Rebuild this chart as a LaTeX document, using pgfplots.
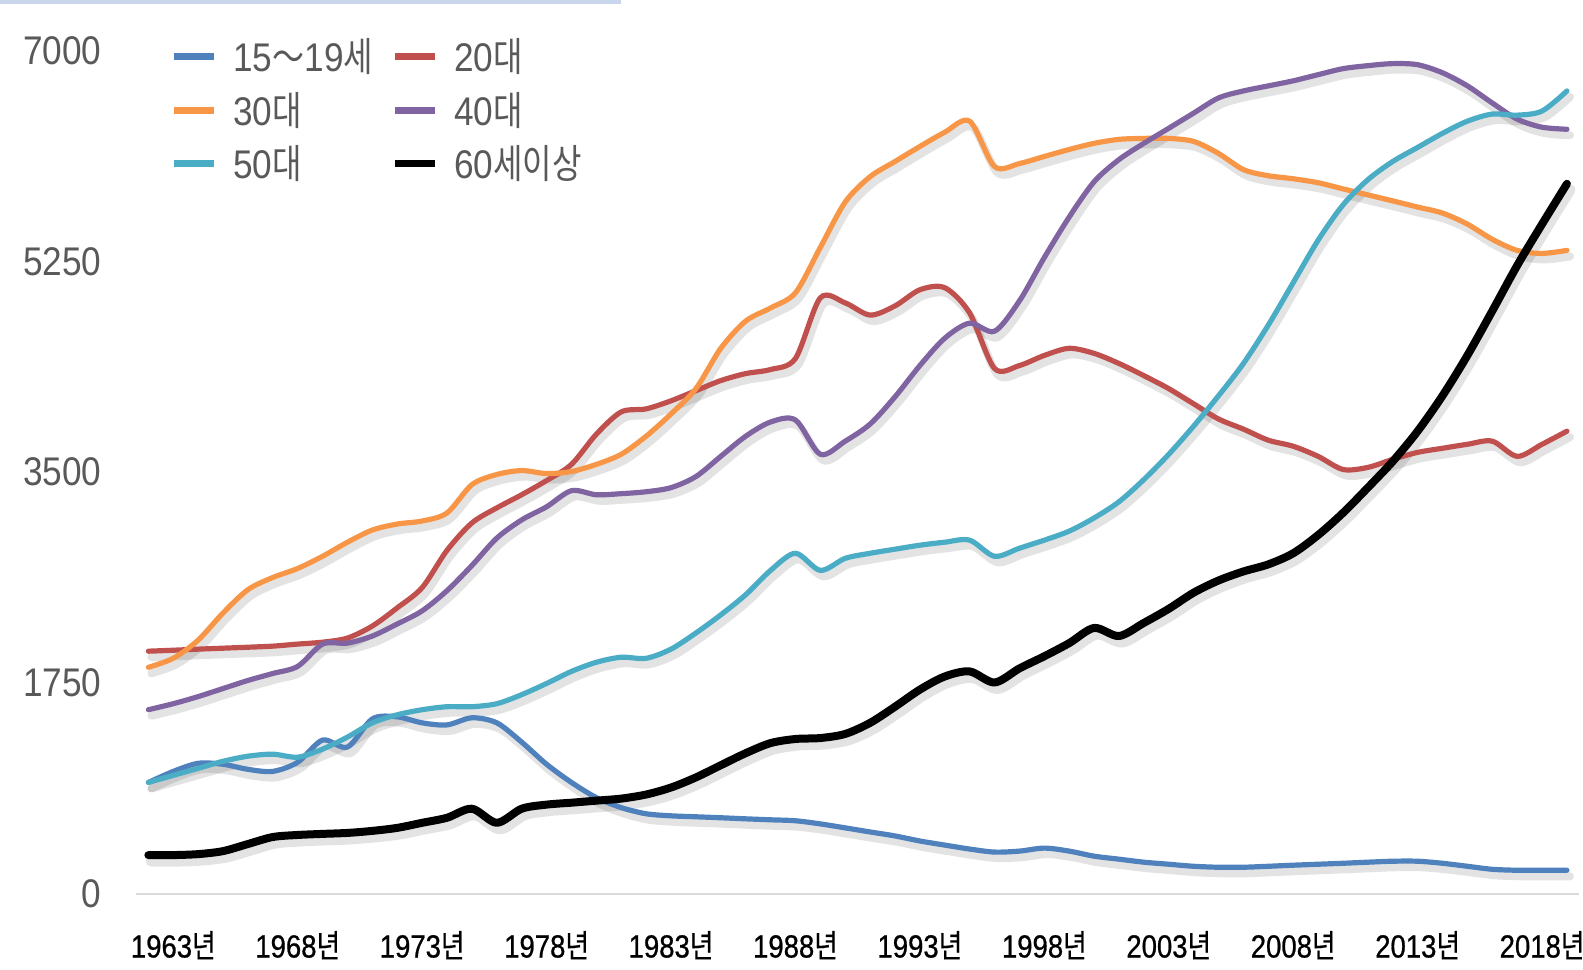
\documentclass[border=0pt]{standalone}
\usepackage{pgfplots}
\pgfplotsset{compat=1.18}
\usepackage{pgfplotstable}
\usepackage{fontspec}
\setmainfont{Liberation Sans}[FakeStretch=0.88]
\newfontfamily\kr{Noto Sans CJK KR}[FakeStretch=0.8]
\newfontfamily\xl{Liberation Sans}[FakeStretch=0.86, FakeBold=0.7]
\newfontfamily\krx{Noto Sans CJK KR}[FakeStretch=0.8, FakeBold=0.5]
\newcommand{\ny}{{\krx 년}}
\definecolor{cteen}{HTML}{4F81BD}
\definecolor{ctwenty}{HTML}{C0504D}
\definecolor{cthirty}{HTML}{F79646}
\definecolor{cforty}{HTML}{8064A2}
\definecolor{cfifty}{HTML}{4BACC6}
\definecolor{txtgray}{HTML}{595959}
\definecolor{axgray}{HTML}{D9D9D9}
\definecolor{barblue}{HTML}{C9D5EA}
\newcommand{\lst}{\rule[-2pt]{0pt}{17pt}}
\pgfplotstableread{
year a b c d e f
1962 922 2012 1878 1526 922 319
1963 1014 2020 1953 1576 981 319
1964 1081 2029 2104 1635 1039 327
1965 1073 2037 2330 1702 1098 352
1966 1031 2045 2523 1769 1140 411
1967 1014 2054 2624 1827 1157 469
1968 1090 2071 2699 1886 1132 486
1969 1274 2087 2800 2071 1199 495
1970 1216 2121 2917 2079 1299 503
1971 1450 2221 3018 2138 1417 520
1972 1467 2372 3068 2238 1484 545
1973 1417 2540 3093 2347 1526 587
1974 1400 2850 3160 2515 1551 629
1975 1459 3077 3395 2724 1551 704
1976 1417 3202 3479 2951 1576 587
1977 1257 3311 3512 3102 1651 704
1978 1073 3429 3487 3211 1744 738
1979 922 3563 3504 3345 1844 754
1980 796 3814 3563 3311 1920 771
1981 713 3999 3647 3320 1962 788
1982 662 4024 3797 3336 1953 822
1983 645 4091 3982 3370 2029 880
1984 637 4175 4192 3462 2163 964
1985 629 4259 4527 3630 2314 1065
1986 620 4317 4753 3797 2481 1165
1987 612 4351 4862 3915 2683 1249
1988 604 4443 4988 3932 2825 1283
1989 578 4946 5365 3647 2683 1291
1990 545 4904 5742 3756 2783 1325
1991 511 4803 5952 3898 2825 1417
1992 478 4879 6078 4124 2859 1551
1993 436 5013 6203 4384 2892 1693
1994 402 5030 6321 4611 2917 1802
1995 369 4820 6413 4736 2934 1844
1996 344 4359 6036 4669 2800 1752
1997 352 4384 6061 4921 2867 1869
1998 377 4468 6120 5281 2934 1970
1999 352 4527 6178 5617 3009 2079
2000 310 4485 6229 5910 3118 2205
2001 285 4401 6262 6094 3253 2138
2002 260 4300 6270 6229 3437 2247
2003 243 4192 6270 6354 3647 2364
2004 226 4066 6245 6480 3881 2498
2005 218 3940 6145 6606 4133 2599
2006 218 3856 6011 6664 4401 2674
2007 226 3764 5960 6706 4720 2733
2008 235 3714 5935 6748 5072 2825
2009 243 3630 5902 6799 5424 2976
2010 251 3521 5851 6849 5717 3160
2011 260 3538 5801 6874 5927 3370
2012 268 3605 5751 6891 6078 3588
2013 268 3663 5700 6882 6195 3839
2014 251 3697 5650 6815 6312 4133
2015 226 3730 5558 6706 6413 4468
2016 201 3756 5432 6564 6472 4837
2017 193 3630 5340 6430 6463 5214
2018 193 3730 5315 6363 6497 5558
2019 193 3839 5340 6346 6664 5893
}\data
\begin{document}
\begin{tikzpicture}
\begin{axis}[
  scale only axis, width=721.7pt, height=421.5pt,
  xmin=1961.5, xmax=2019.5, ymin=0, ymax=7000,
  axis x line*=bottom, axis y line*=left,
  y axis line style={draw=none},
  x axis line style={draw=axgray, line width=1pt, -},
  major tick length=0pt,
  xtick={1963,1968,1973,1978,1983,1988,1993,1998,2003,2008,2013,2018},
  xticklabels={1963\ny,1968\ny,1973\ny,1978\ny,1983\ny,1988\ny,1993\ny,1998\ny,2003\ny,2008\ny,2013\ny,2018\ny},
  ytick={0,1750,3500,5250,7000},
  /pgf/number format/1000 sep={},
  /pgf/number format/assume math mode=true,
  yticklabel style={anchor=east, inner sep=0pt, xshift=-17pt, font=\fontsize{20}{24}\selectfont, text=txtgray},
  xticklabel style={anchor=base, inner sep=0pt, yshift=-32pt, font=\xl\fontsize{16}{20}\selectfont, text=black},
  legend columns=2,
  legend cell align=left,
  legend style={at={(0.02356,1.01423)}, anchor=north west, draw=none, fill=none, inner sep=0pt,
    /tikz/every odd column/.append style={column sep=8pt},
    /tikz/every even column/.append style={column sep=10pt},
    row sep=8.7pt, font=\fontsize{20}{24}\selectfont, text=txtgray,
    nodes={inner sep=0pt}},
  legend image code/.code={\draw[#1, line width=3.5pt, line cap=butt] (0pt,0pt) -- (20pt,0pt);},
  every axis plot/.append style={smooth, tension=0.5, line join=round, line cap=round},
]
% shadows
\addplot[forget plot, draw=black, draw opacity=0.11, line width=4pt, xshift=1.5pt, yshift=-3pt] table[x=year, y=a]{\data};
\addplot[forget plot, draw=black, draw opacity=0.11, line width=4pt, xshift=1.5pt, yshift=-3pt] table[x=year, y=b]{\data};
\addplot[forget plot, draw=black, draw opacity=0.11, line width=4pt, xshift=1.5pt, yshift=-3pt] table[x=year, y=c]{\data};
\addplot[forget plot, draw=black, draw opacity=0.11, line width=4pt, xshift=1.5pt, yshift=-3pt] table[x=year, y=d]{\data};
\addplot[forget plot, draw=black, draw opacity=0.11, line width=4pt, xshift=1.5pt, yshift=-3pt] table[x=year, y=e]{\data};
\addplot[forget plot, draw=black, draw opacity=0.11, line width=5.5pt, xshift=1.5pt, yshift=-3pt] table[x=year, y=f]{\data};
% lines
\addplot[draw=cteen, line width=2.6pt] table[x=year, y=a]{\data};
\addlegendentry{\makebox[69pt][l]{\lst 15{\kr ～}19{\kr 세}}}
\addplot[draw=ctwenty, line width=2.6pt] table[x=year, y=b]{\data};
\addlegendentry{\lst 20{\kr 대}}
\addplot[draw=cthirty, line width=2.6pt] table[x=year, y=c]{\data};
\addlegendentry{\makebox[69pt][l]{\lst 30{\kr 대}}}
\addplot[draw=cforty, line width=2.6pt] table[x=year, y=d]{\data};
\addlegendentry{\lst 40{\kr 대}}
\addplot[draw=cfifty, line width=2.6pt] table[x=year, y=e]{\data};
\addlegendentry{\makebox[69pt][l]{\lst 50{\kr 대}}}
\addplot[draw=black, line width=4pt] table[x=year, y=f]{\data};
\addlegendentry{\lst 60{\kr 세이상}}
\end{axis}
\fill[barblue] (-67.98pt,446.75pt) rectangle (242.52pt,444.75pt);
\pgfresetboundingbox
\useasboundingbox (-67.98pt,-37.75pt) rectangle (723.52pt,446.75pt);
\end{tikzpicture}
\end{document}
